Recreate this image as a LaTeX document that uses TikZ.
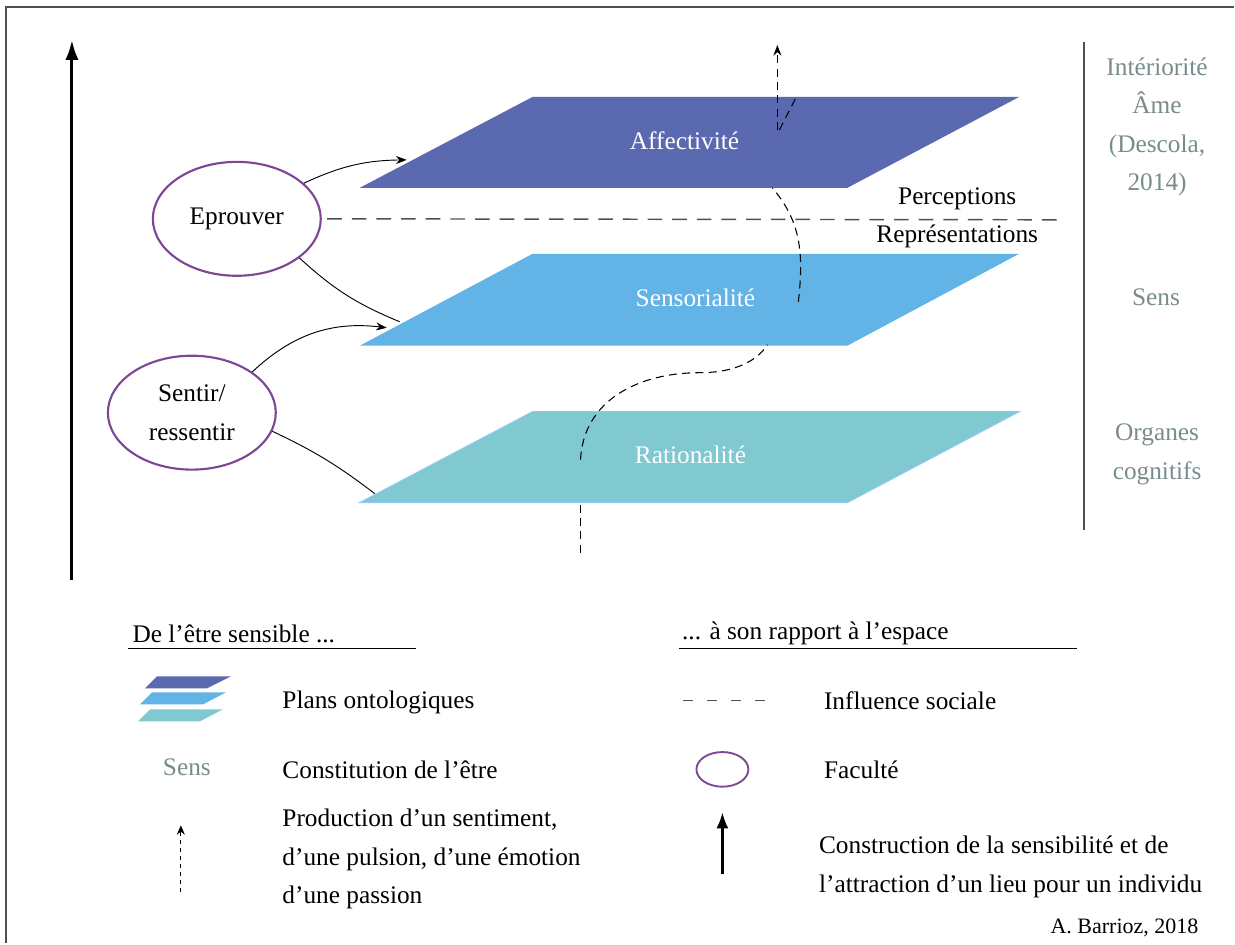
\documentclass[tikz,border=0pt]{standalone}
\usepackage{fontspec}
\setmainfont{Liberation Serif}
\usepackage{tikz}
\usetikzlibrary{positioning,arrows.meta,shapes.geometric}

\definecolor{affcol}{RGB}{91,105,176}
\definecolor{sencol}{RGB}{98,179,230}
\definecolor{ratcol}{RGB}{128,201,208}
\definecolor{facol}{RGB}{125,70,150}
\definecolor{sidecol}{RGB}{120,140,140}
\definecolor{framecol}{RGB}{80,80,80}

\begin{document}
\begin{tikzpicture}[x=0.75pt,y=0.75pt,yscale=-1,xscale=1,
  every node/.style={font=\fontsize{19}{29}\selectfont},
  planelbl/.style={text=white},
  sidelbl/.style={text=sidecol},
  faculty/.style={ellipse,draw=facol,line width=1.6pt,minimum width=126pt,minimum height=85.5pt,inner sep=0pt,align=center},
  influence/.style={dash pattern=on 6pt off 4pt,line width=0.8pt},
  link/.style={line width=0.7pt}
]
%set diagram, height of 944
\path (0,0) rectangle (1235,944);

%Frame
\draw [color=framecol,line width=1.5pt] (6,944) -- (6,7) -- (1235,7) ;

%Straight Lines: big arrow
\draw [line width=2.3pt,-{Latex[length=15pt,width=10pt]}] (72,580) -- (72,40) ;

%Shape: planes
\fill [color=ratcol] (360,503) -- (533,412) -- (1020,412) -- (848,503) -- cycle ;
\draw [color=sencol!70,line width=0.8pt] (360,503) -- (533,412) -- (1020,412) -- (848,503) -- cycle ;
\fill [color=sencol] (360,346) -- (533,254) -- (1020,254) -- (848,346) -- cycle ;
\fill [color=affcol] (360,188) -- (533,97) -- (1020,97) -- (848,188) -- cycle ;

\node [planelbl] (aff) at (685,141) {Affectivité};
\node [planelbl] (sen) at (696,298) {Sensorialité};
\node [planelbl] (rat) at (691,455) {Rationalité};

%Influence: dashed path through the planes
\draw [influence] (581,553) -- (581,503) ;
\draw [influence] (581,460) .. controls (584,400) and (640,373) .. (700,373) .. controls (740,373) and (760,358) .. (768,345) ;
\draw [influence] (799,302) .. controls (805,250) and (800,220) .. (773,188) ;
\draw [influence] (780,130) -- (797,97) ;
\draw [influence,-{Stealth[length=8pt,width=6pt]}] (778,130) -- (778,45) ;

%Faculties
\node [faculty] (ep) at (237,219) {Eprouver};
\node [faculty] (sr) at (192,413) {Sentir/\\ressentir};

\coordinate (affin) at (407,160);
\coordinate (senedge) at (400,322);
\coordinate (senin) at (387,328);
\coordinate (ratedge) at (375,494);

\draw [link,-{Stealth[length=8pt,width=6pt]}] (ep.28) to[bend right=12] (affin) ;
\draw [link] (ep.-32) to[bend left=10] (senedge) ;
\draw [link,-{Stealth[length=8pt,width=6pt]}] (sr.34) to[bend right=25] (senin) ;
\draw [link] (sr.-13) to[bend right=6] (ratedge) ;

%Perceptions / representations
\coordinate (perend) at (1065,220);
\draw [color=framecol,dash pattern=on 11pt off 7.5pt,line width=1.1pt] ([xshift=4pt]ep.east) -- (perend) ;
\node (perc) at (958,199) {Perceptions};
\node (repr) at (958,237) {Représentations};

%Side scale
\draw [color=framecol,line width=1pt] (1085,42) -- (1085,530) ;
\node [sidelbl,align=center] (ame) at (1158,127) {Intériorité\\Âme\\(Descola,\\2014)};
\node [sidelbl] (sens) at (1157,297) {Sens};
\node [sidelbl,align=center] (org) at (1158,455) {Organes\\cognitifs};

%Legend headings
\node [anchor=west] (lgl) at (128,634) {De l’être sensible ...};
\draw [line width=0.8pt] (128,649) -- (416,649) ;
\node [anchor=west] (lgr) at (678,634) {... à son rapport à l’espace};
\draw [line width=0.8pt] (680,649) -- (1078,649) ;

%Legend: planes icon
\fill [color=ratcol] (138,722) -- (150,710) -- (223,710) -- (200,722) -- cycle ;
\fill [color=sencol] (140,705) -- (152,693) -- (226,693) -- (203,705) -- cycle ;
\fill [color=affcol] (145,689) -- (157,677) -- (231,677) -- (207,689) -- cycle ;
\node [anchor=west] (lplans) at (278,703) {Plans ontologiques};

%Legend: sens
\node [sidelbl] (lsens) at (187,768) {Sens};
\node [anchor=west] (lconst) at (278,770) {Constitution de l’être};

%Legend: production
\coordinate (lpbot) at (181,893);
\coordinate (lptop) at (181,826);
\draw [dash pattern=on 3pt off 3pt,line width=0.7pt,-{Stealth[length=7pt,width=6pt]}] (lpbot) -- (lptop) ;
\node [anchor=north west,align=left] (lprod) at (278,805) {Production d’un sentiment,\\d’une pulsion, d’une émotion\\d’une passion};

%Legend: influence
\coordinate (lia) at (684,701);
\coordinate (lib) at (766,701);
\draw [color=framecol,dash pattern=on 7.5pt off 10.5pt,line width=1pt] (lia) -- (lib) ;
\node [anchor=west] (linf) at (820,701) {Influence sociale};

%Legend: faculty
\node [ellipse,draw=facol,line width=1.4pt,minimum width=39pt,minimum height=26pt,inner sep=0pt] (lfac) at (723,770) {};
\node [anchor=west] (lfact) at (820,770) {Faculté};

%Legend: construction
\coordinate (lcbot) at (723,875);
\coordinate (lctop) at (723,813);
\draw [line width=1.8pt,-{Latex[length=12pt,width=9pt]}] (lcbot) -- (lctop) ;
\node [anchor=north west,align=left] (lcons) at (815,832) {Construction de la sensibilité et de\\l’attraction d’un lieu pour un individu};

% Text Node
\node [anchor=east,font=\fontsize{16.5}{20}\selectfont] (auth) at (1204,929) {A. Barrioz, 2018};

\end{tikzpicture}
\end{document}
